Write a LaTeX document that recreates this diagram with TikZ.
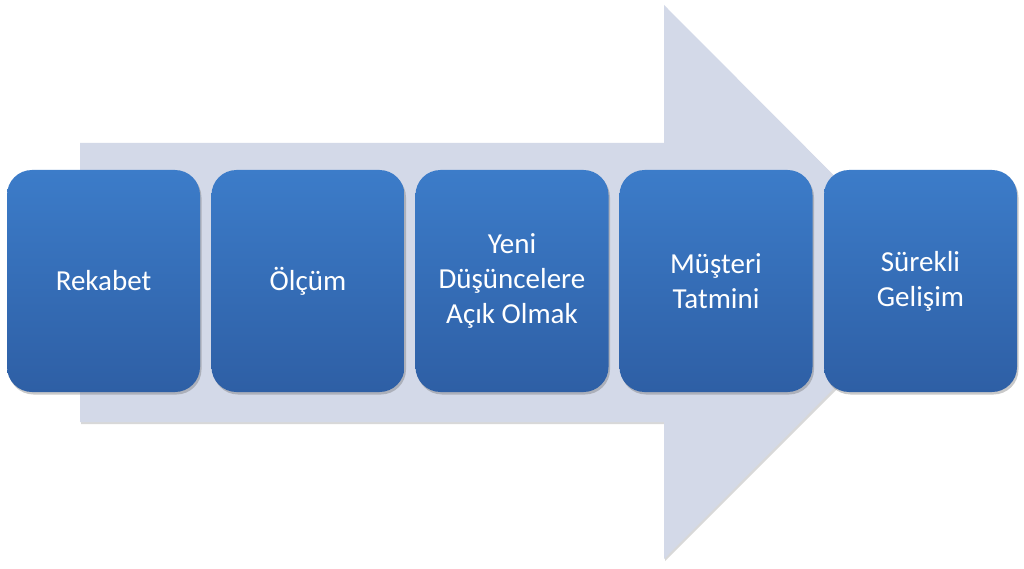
\documentclass[tikz,border=0pt]{standalone}
\usepackage{fontspec}
\setmainfont{Carlito}
\usetikzlibrary{shadows}
\definecolor{arrowfill}{HTML}{D3D9E8}
\definecolor{boxtop}{HTML}{3C7CC9}
\definecolor{boxbot}{HTML}{2E5FA5}
\tikzset{
  stepbox/.style={rounded corners=25pt, minimum width=193pt, minimum height=222pt,
    top color=boxtop, bottom color=boxbot, draw=none, text=white, align=center,
    font=\fontsize{29}{35}\selectfont, inner sep=0pt,
    drop shadow={shadow xshift=1.5pt, shadow yshift=-2.5pt, opacity=0.35, fill=black!60}},
}
\begin{document}
\begin{tikzpicture}[x=1pt,y=-1pt]
\useasboundingbox (0,0) rectangle (1024,569);
\fill[white] (0,0) rectangle (1024,569);
% big arrow shadow
\fill[black!25, opacity=0.6] (81,145) -- (665,145) -- (665,7) -- (942,284) -- (665,561) -- (665,424) -- (81,424) -- cycle;
% big arrow
\fill[arrowfill] (80,143) -- (664,143) -- (664,5) -- (940,282) -- (664,559) -- (664,422) -- (80,422) -- cycle;
\node[stepbox] (b1) at (103.5,281) {Rekabet};
\node[stepbox] (b2) at (308,281) {Ölçüm};
\node[stepbox] (b3) at (512,281) {Yeni\\Düşüncelere\\Açık Olmak};
\node[stepbox] (b4) at (716,281) {Müşteri\\Tatmini};
\node[stepbox] (b5) at (920.5,281) {Sürekli\\Gelişim};
\end{tikzpicture}
\end{document}
